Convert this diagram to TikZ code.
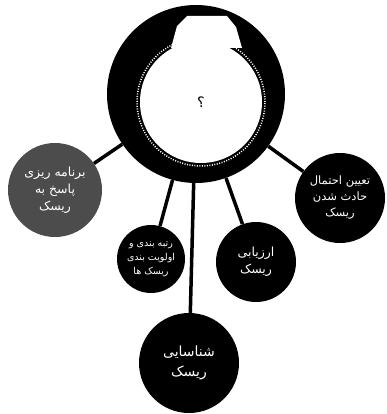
\documentclass[tikz,border=0pt]{standalone}
\usepackage{fontspec}
\newfontfamily\arabicfont[Script=Arabic]{DejaVu Sans}
\TeXXeTstate=1
\newcommand{\rtl}[1]{\beginR#1\endR}

\begin{document}
\begin{tikzpicture}[x=1pt, y=-1pt,
        hub/.style={circle, fill=black, minimum size=178pt, inner sep=0pt},
        core/.style={circle, fill=white, minimum size=122pt, inner sep=0pt, font=\arabicfont\Large},
        stage/.style={circle, fill=black, text=white, align=center, inner sep=0pt, font=\arabicfont\fontsize{12.5}{17}\selectfont},
        link/.style={line width=3.5pt}]
        \useasboundingbox (0,0) rectangle (387,414);

        % central ring
        \node (hub) [hub] at (196,94) {};
        \fill[white] (171,48) -- (177,26) -- (187,16) -- (227,16) -- (236,27) -- (242,48) -- cycle;
        \node (core) [core] at (201,102) {\rtl{؟}};
        \draw[white, line width=1.5pt, dash pattern=on 1pt off 1.5pt] (core.center) circle[radius=64pt];

        % stages
        \node (plan) [stage, fill=black!70, minimum size=94pt] at (55,190) {\rtl{برنامه ریزی}\\ \rtl{پاسخ به}\\ \rtl{ریسک}};
        \node (rank) [stage, minimum size=68pt, font=\arabicfont\fontsize{9.5}{14}\selectfont] at (151,259) {\rtl{رتبه بندی و}\\ \rtl{اولویت بندی}\\ \rtl{ریسک ها}};
        \node (assess) [stage, minimum size=80pt] at (256,262) {\rtl{ارزیابی}\\ \rtl{ریسک}};
        \node (prob) [stage, minimum size=90pt, font=\arabicfont\fontsize{11.5}{16}\selectfont] at (340,198) {\rtl{تعیین احتمال}\\ \rtl{حادث شدن}\\ \rtl{ریسک}};
        \node (find) [stage, minimum size=100pt, font=\arabicfont\fontsize{14}{20}\selectfont] at (189,363) {\rtl{شناسایی}\\ \rtl{ریسک}};

        \draw[link] (hub) -- (plan);
        \draw[link] (hub) -- (rank);
        \draw[link] (hub) -- (assess);
        \draw[link] (hub) -- (prob);
        \draw[link] (hub) -- (find);
    \end{tikzpicture}
\end{document}
